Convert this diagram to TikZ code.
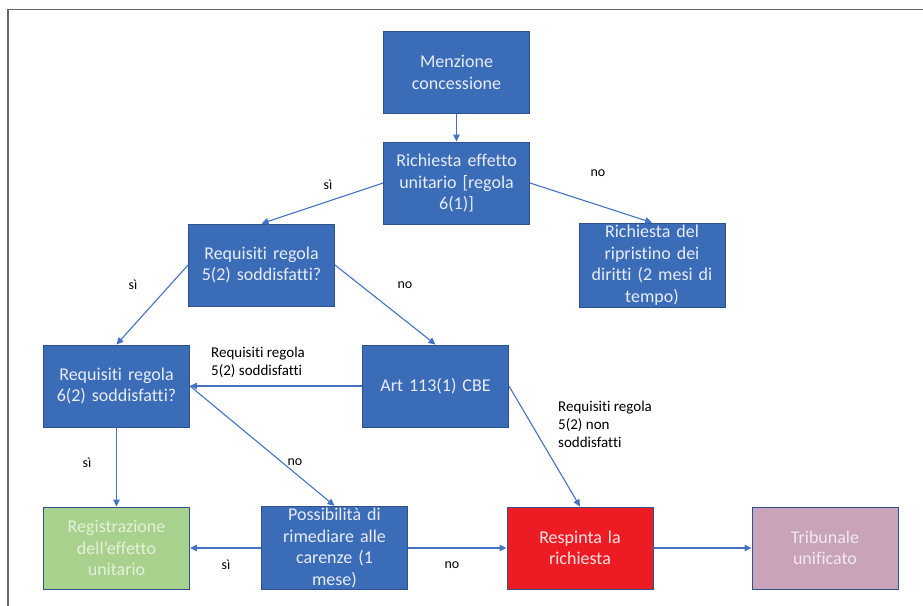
\documentclass[tikz,border=0pt]{standalone}
\usepackage{fontspec}
\setmainfont{Carlito}[Ligatures=NoCommon]
\usetikzlibrary{arrows.meta}
\definecolor{bfill}{HTML}{3B6CB7}
\definecolor{bdraw}{HTML}{2F528F}
\definecolor{btext}{HTML}{E8ECF5}
\definecolor{gfill}{HTML}{A9D18E}
\definecolor{gtext}{HTML}{E4F1DA}
\definecolor{rfill}{HTML}{ED1C24}
\definecolor{rtext}{HTML}{FBE3E3}
\definecolor{pfill}{HTML}{C8A3B9}
\definecolor{ptext}{HTML}{F3E9EF}
\definecolor{conn}{HTML}{4472C4}
\definecolor{frame}{HTML}{666666}
\tikzset{
  box/.style={rectangle, draw=bdraw, line width=0.9pt, fill=bfill, text=btext,
    minimum width=146pt, minimum height=82pt, inner sep=2pt,
    align=center, text width=142pt,
    font=\fontsize{18}{21.5}\selectfont},
  greenbox/.style={box, fill=gfill, text=gtext},
  redbox/.style={box, fill=rfill, text=rtext},
  purplebox/.style={box, fill=pfill, text=ptext},
  conn/.style={draw=conn, line width=1.1pt, -{Triangle[length=7pt,width=6.5pt]}},
  yn/.style={font=\fontsize{14}{17}\selectfont, text=black, inner sep=0pt},
  small/.style={font=\fontsize{15}{18}\selectfont, text=black, align=left, inner sep=0pt, anchor=west}
}
\begin{document}
\begin{tikzpicture}[x=1pt,y=-1pt]
\useasboundingbox (0,0) rectangle (923,605);
\fill[white] (0,0) rectangle (923,605);
\draw[frame, line width=1.5pt] (8,606) -- (8,9.5) -- (924,9.5);

\node[box] (menz) at (456.5,72.5) {Menzione\\concessione};
\node[box] (rich) at (456.5,183) {Richiesta effetto\\unitario [regola\\6(1)]};
\node[box] (req5) at (261.5,265) {Requisiti regola\\5(2) soddisfatti?};
\node[box] (ripr) at (652,265) {Richiesta del\\ripristino dei\\diritti (2 mesi di\\tempo)};
\node[box] (art) at (435.5,386) {Art 113(1) CBE};
\node[box] (req6) at (116.5,386) {Requisiti regola\\6(2) soddisfatti?};
\node[greenbox] (reg) at (116.5,548) {Registrazione\\dell'effetto\\unitario};
\node[box] (poss) at (334.5,548) {Possibilità di\\rimediare alle\\carenze (1\\mese)};
\node[redbox] (resp) at (580,548) {Respinta la\\richiesta};
\node[purplebox] (trib) at (825,548) {Tribunale\\unificato};

\draw[conn] (menz.south) -- (rich.north);
\draw[conn] (rich.west) -- (req5.north);
\draw[conn] (rich.east) -- (ripr.north);
\draw[conn] (req5.west) -- (req6.north);
\draw[conn] (req5.east) -- (art.north);
\draw[conn] (art.west) -- (req6.east);
\draw[conn] (req6.east) -- (poss.north);
\draw[conn] (req6.south) -- (reg.north);
\draw[conn] (art.east) -- (resp.north);
\draw[conn] (poss.west) -- (reg.east);
\draw[conn] (poss.east) -- (resp.west);
\draw[conn] (resp.east) -- (trib.west);

\node[yn] (l1) at (328,185) {sì};
\node[yn] (l2) at (598,173) {no};
\node[yn] (l3) at (133,285) {sì};
\node[yn] (l4) at (405,285) {no};
\node[small] (l5) at (211,362) {Requisiti regola\\5(2) soddisfatti};
\node[yn] (l6) at (87,463) {sì};
\node[yn] (l7) at (295,462) {no};
\node[small] (l8) at (558,424) {Requisiti regola\\5(2) non\\soddisfatti};
\node[yn] (l9) at (226,565) {sì};
\node[yn] (l10) at (452,565) {no};
\end{tikzpicture}
\end{document}
